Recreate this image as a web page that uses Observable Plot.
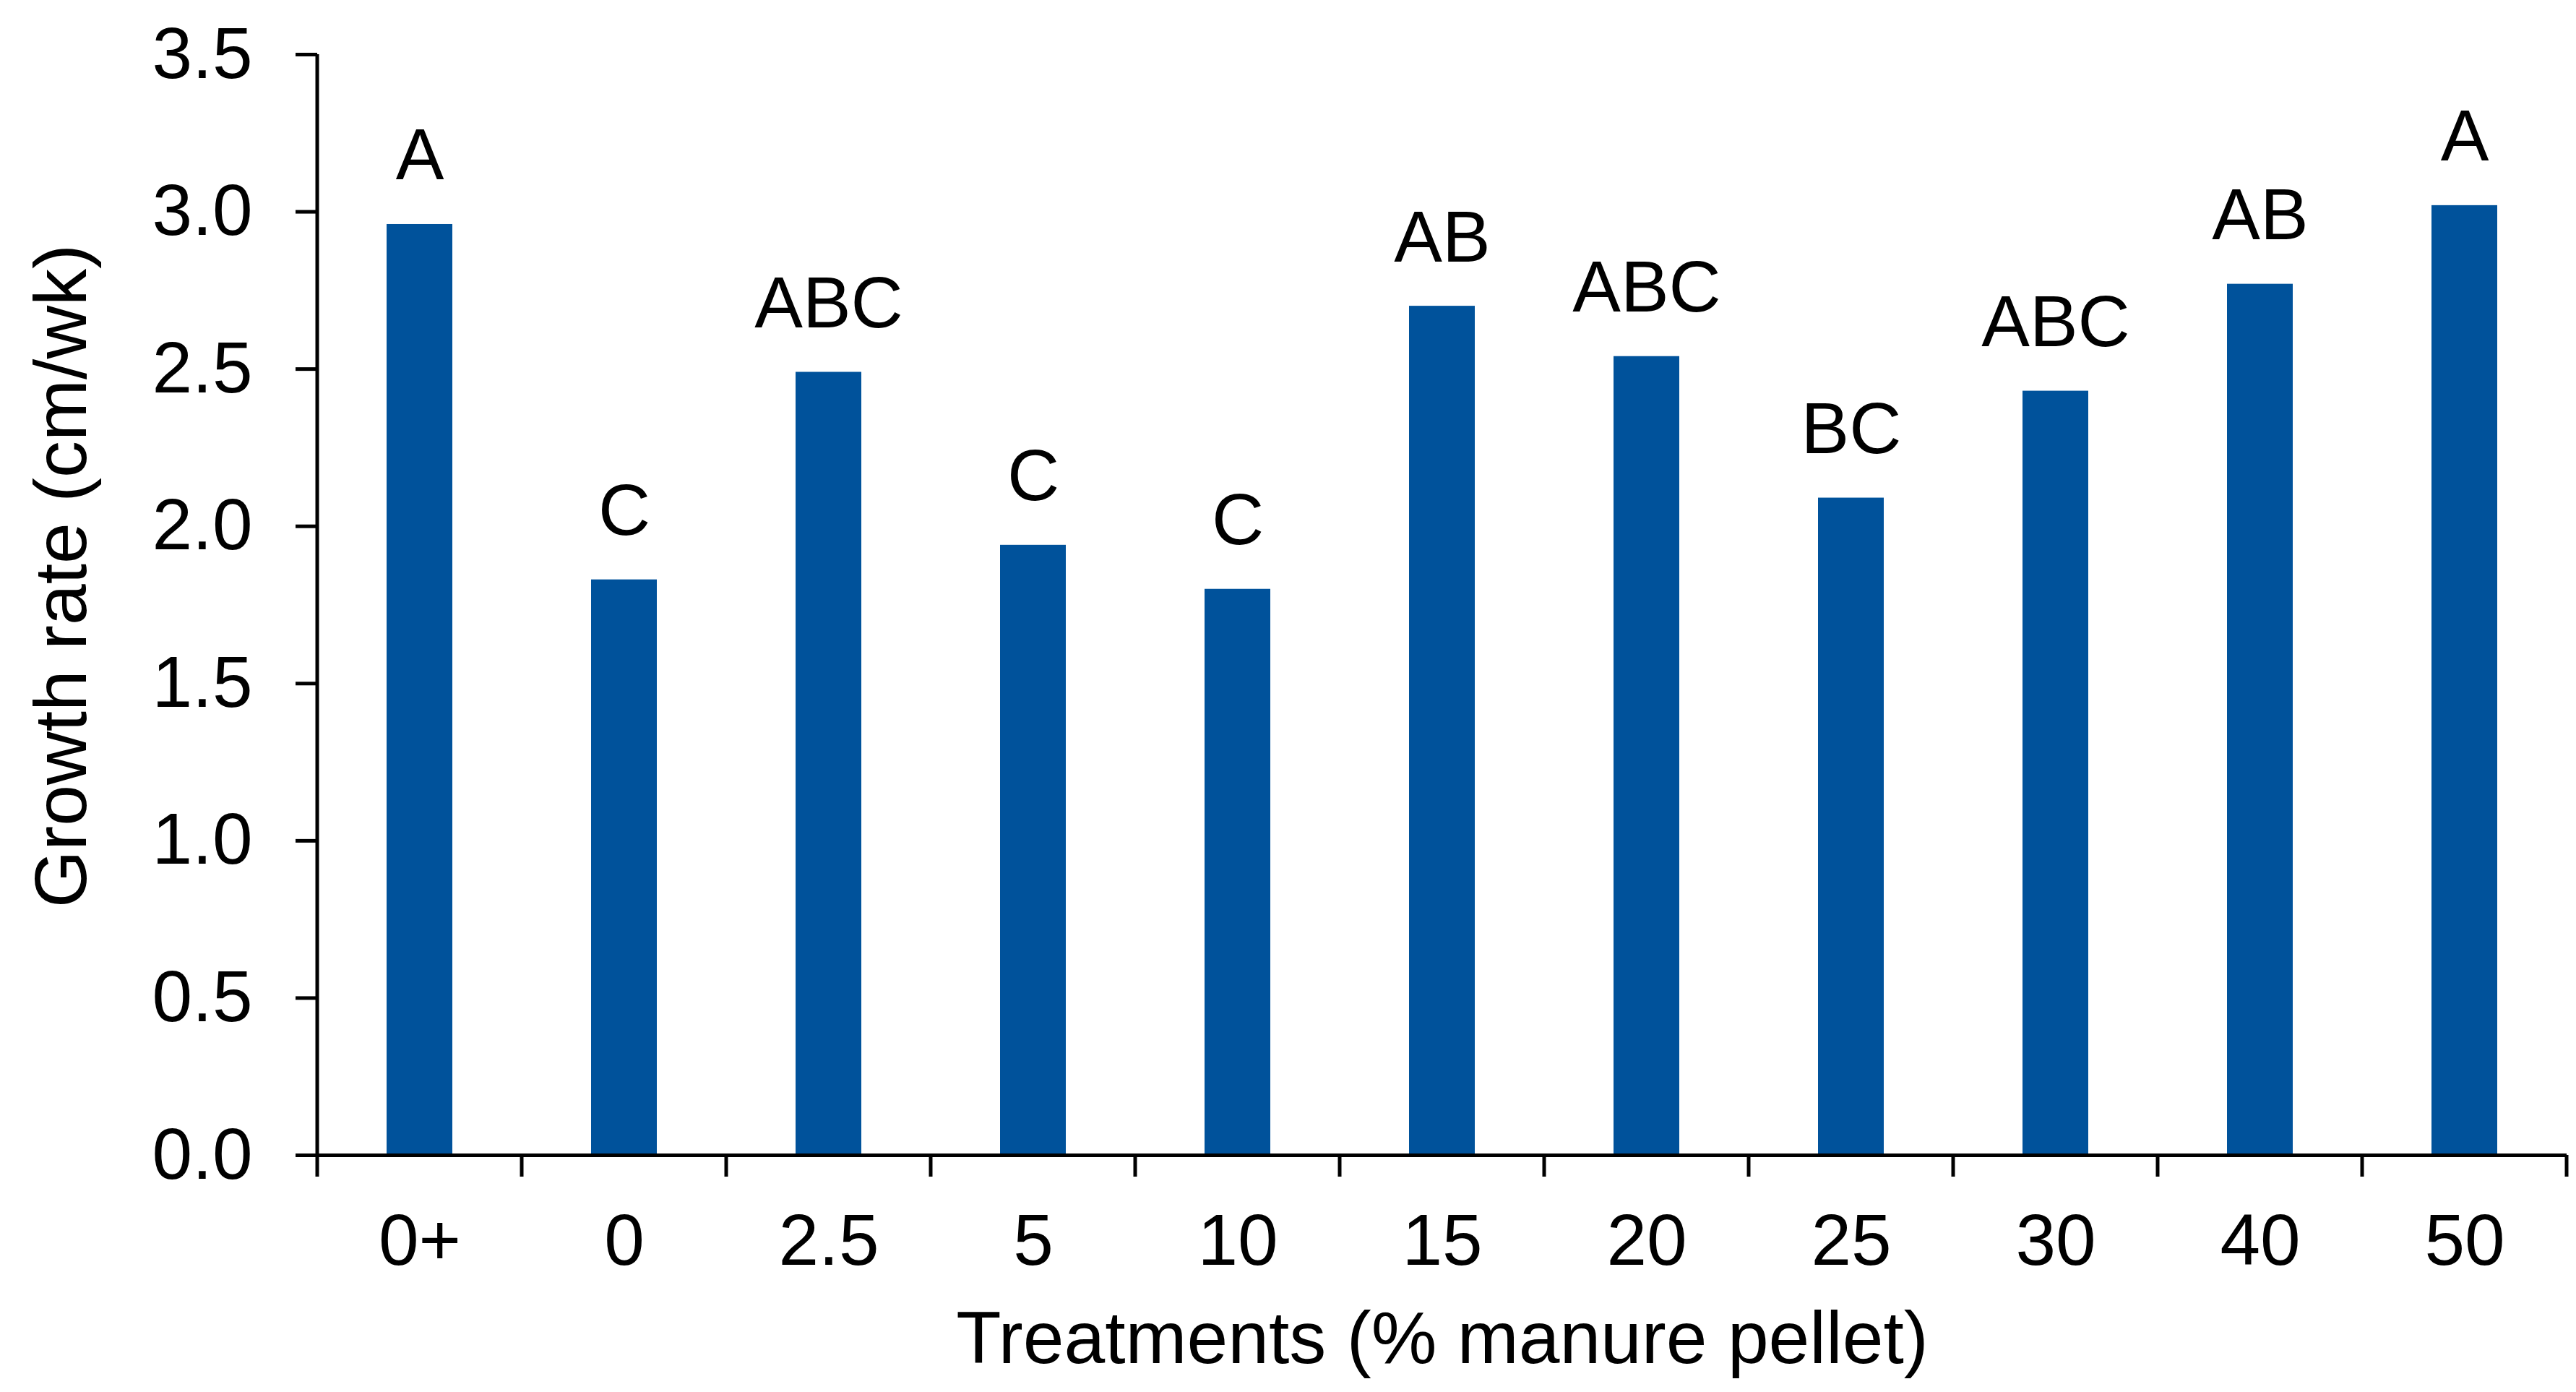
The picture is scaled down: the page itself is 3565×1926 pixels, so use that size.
<!DOCTYPE html>
<html><head><meta charset="utf-8">
<script src="https://cdn.jsdelivr.net/npm/d3@7"></script>
<script src="https://cdn.jsdelivr.net/npm/@observablehq/plot@0.6"></script>
<style>html,body{margin:0;padding:0;background:#fff;}</style>
</head><body><div id="chart"></div>
<script>
const treatments = ["0+","0","2.5","5","10","15","20","25","30","40","50"];
const growthRate = [2.96,1.83,2.49,1.94,1.80,2.70,2.54,2.09,2.43,2.77,3.02];
const groups = ["A","C","ABC","C","C","AB","ABC","BC","ABC","AB","A"];
const yTicks = [0,0.5,1,1.5,2,2.5,3,3.5];
const xTitle = "Treatments (% manure pellet)";
const yTitle = "Growth rate (cm/wk)";
const data = treatments.map((t,i)=>({t, v: growthRate[i], g: groups[i]}));

const W = 3565, H = 1926;
const font = "'Liberation Sans', Arial, sans-serif";
const barColor = "#00529B";
const lineW = 5, tickLen = 30;

// axis lines + category-boundary ticks, positioned via Plot's own scales
function axisFrame(index, scales) {
  const x = scales.x, y = scales.y;
  const bw = x.bandwidth();
  const step = x(treatments[1]) - x(treatments[0]);
  const edges = treatments.map(t => x(t) - (step - bw) / 2);
  edges.push(x(treatments[treatments.length - 1]) + bw + (step - bw) / 2);
  const g = d3.create("svg:g").attr("stroke", "#000").attr("stroke-width", lineW).attr("fill", "none");
  g.append("line").attr("x1", edges[0]).attr("x2", edges[0])
    .attr("y1", y(yTicks[yTicks.length - 1])).attr("y2", y(0));
  for (const e of edges) {
    g.append("line").attr("x1", e).attr("x2", e).attr("y1", y(0)).attr("y2", y(0) + tickLen);
  }
  return g.node();
}

const chart = Plot.plot({
  width: W, height: H,
  marginLeft: 439, marginRight: 13, marginTop: 75, marginBottom: 328,
  style: {fontFamily: font, fontSize: "100px", color: "#000", background: "#fff"},
  x: {domain: treatments, paddingInner: 0.68, paddingOuter: 0.34, label: null},
  y: {domain: [0, 3.5], label: null},
  marks: [
    Plot.barY(data, {x: "t", y: "v", fill: barColor}),
    Plot.ruleY([0], {strokeWidth: lineW}),
    Plot.axisY({ticks: yTicks, tickFormat: d3.format(".1f"), tickSize: tickLen, tickPadding: 60, strokeWidth: lineW, fontSize: 100, label: null}),
    Plot.axisX({tickSize: 0, tickPadding: 80, fontSize: 100, label: null}),
    Plot.text(data, {x: "t", y: "v", text: "g", dy: -62, lineAnchor: "bottom", fontSize: 100}),
    Plot.text([xTitle], {text: d => d, frameAnchor: "bottom", dy: 255, lineAnchor: "middle", textAnchor: "middle", fontSize: 102}),
    Plot.text([yTitle], {text: d => d, frameAnchor: "left", rotate: -90, dx: -353, dy: -40, lineAnchor: "middle", textAnchor: "middle", fontSize: 102}),
    axisFrame
  ]
});
document.getElementById("chart").append(chart);
</script>
</body></html>
